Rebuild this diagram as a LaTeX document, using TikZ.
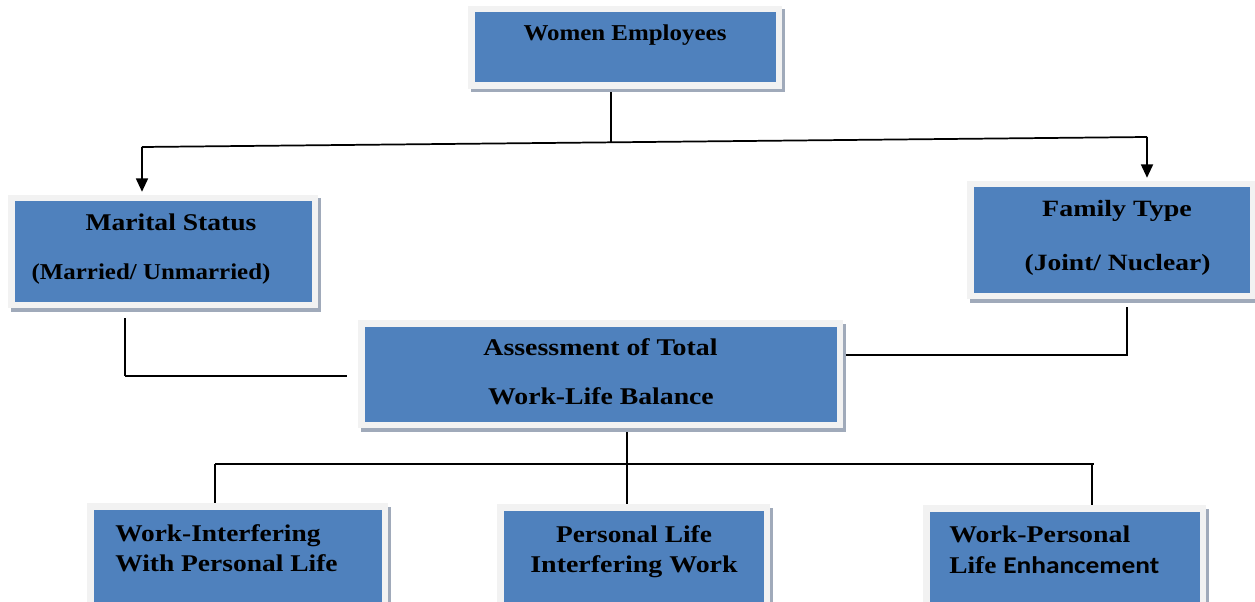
\documentclass[tikz,border=0pt]{standalone}
\usepackage{fontspec}
\setmainfont{Liberation Serif}
\newfontfamily\calfont{Carlito}
\usetikzlibrary{arrows.meta,shadows}
\newdimen\px \px=0.75pt
\newcommand\wfs[1]{\fontsize{#1}{#1}\selectfont}
\definecolor{boxblue}{HTML}{4F81BD}
\definecolor{framegray}{HTML}{F2F2F2}
\definecolor{shadowgray}{RGB}{160,170,186}
\pgfdeclarelayer{bg}
\pgfsetlayers{bg,main}
\tikzset{
  wlbox/.style={rectangle, fill=boxblue, draw=framegray, line width=6.5\px, inner sep=0pt,
    general shadow={shadow xshift=3\px, shadow yshift=-3.5\px, fill=shadowgray, draw=shadowgray}},
  txt/.style={inner sep=0pt, font=\bfseries, anchor=base},
  conn/.style={draw=black, line width=1.3pt},
  arr/.style={conn, -{Triangle[width=9pt,length=10pt]}}
}
\begin{document}
\begin{tikzpicture}[x=0.75pt,y=-0.75pt]
\useasboundingbox (0,0) rectangle (1255,602);
\clip (0,0) rectangle (1255,602);
% boxes
\node[wlbox, minimum width=307.5\px, minimum height=76.5\px] (women) at (625,47.5) {};
\node[wlbox, minimum width=303.5\px, minimum height=106.5\px] (marital) at (163,251.5) {};
\node[wlbox, minimum width=282.5\px, minimum height=111.5\px] (family) at (1111.5,240) {};
\node[wlbox, minimum width=478.5\px, minimum height=101.5\px] (assess) at (600.5,374) {};
\node[wlbox, minimum width=294.5\px, minimum height=110.5\px] (wi) at (237.5,561.5) {};
\node[wlbox, minimum width=266.5\px, minimum height=109.5\px] (pl) at (633.5,562) {};
\node[wlbox, minimum width=276.5\px, minimum height=108.5\px] (wp) at (1064.5,562.5) {};
% texts
\node[txt, xscale=1.1, font=\bfseries\wfs{17}] (t1) at (625,41) {Women Employees};
\node[txt, xscale=1.15, font=\bfseries\wfs{18}] (t2) at (171,231) {Marital Status};
\node[txt, xscale=1.1, font=\bfseries\wfs{17}] (t3) at (151,279) {(Married/ Unmarried)};
\node[txt, xscale=1.2, font=\bfseries\wfs{17.5}] (t4) at (1117,217) {Family Type};
\node[txt, xscale=1.18, font=\bfseries\wfs{17.5}] (t5) at (1117.5,270) {(Joint/ Nuclear)};
\node[txt, xscale=1.16, font=\bfseries\wfs{18}] (t6) at (600.5,355) {Assessment of Total};
\node[txt, xscale=1.155, font=\bfseries\wfs{18}] (t7) at (601,404) {Work-Life Balance};
\node[txt, xscale=1.14, anchor=base west, font=\bfseries\wfs{18}] (t8) at (115,541) {Work-Interfering};
\node[txt, xscale=1.145, anchor=base west, font=\bfseries\wfs{18}] (t9) at (115,571) {With Personal Life};
\node[txt, xscale=1.14, font=\bfseries\wfs{18}] (t10) at (634,542) {Personal Life};
\node[txt, xscale=1.165, font=\bfseries\wfs{18}] (t11) at (634,572) {Interfering Work};
\node[txt, xscale=1.16, anchor=base west, font=\bfseries\wfs{18}] (t12) at (949,542) {Work-Personal};
\node[txt, xscale=1.14, anchor=base west, font=\bfseries\wfs{18}] (t13) at (949,573) {Life {\calfont Enhancement}};
% connector points
\coordinate (wx) at (611,0);
\coordinate (jw) at (611,142.3);
\coordinate (hl) at (142,147);
\coordinate (hr) at (1147,137);
\coordinate (mx) at (125,0);
\coordinate (mc) at (125,376);
\coordinate (fx) at (1127,0);
\coordinate (fc) at (1127,355);
\coordinate (ax) at (627,0);
\coordinate (b1) at (215,464);
\coordinate (b2) at (1092,464);
\coordinate (b3) at (1094,464);
\begin{pgfonlayer}{bg}
\draw[conn] (women.south -| wx) -- (jw);
\draw[conn] (hl) -- (hr);
\draw[conn, shorten <=10\px] (marital.south -| mx) -- (mc);
\draw[conn, shorten >=11\px] (mc) -- (mc -| assess.west);
\draw[conn, shorten <=8\px] (family.south -| fx) -- (fc) -- (fc -| assess.east);
\draw[conn] (assess.south -| ax) -- (pl.north -| ax);
\draw[conn] (b1) -- (b3);
\draw[conn] (b1) -- (wi.north -| b1);
\draw[conn] (b2) -- (wp.north -| b2);
\end{pgfonlayer}
\draw[arr, shorten >=3.25\px] (hl) -- (hl |- marital.north);
\draw[arr, shorten >=3.25\px] (hr) -- (hr |- family.north);
\end{tikzpicture}
\end{document}
